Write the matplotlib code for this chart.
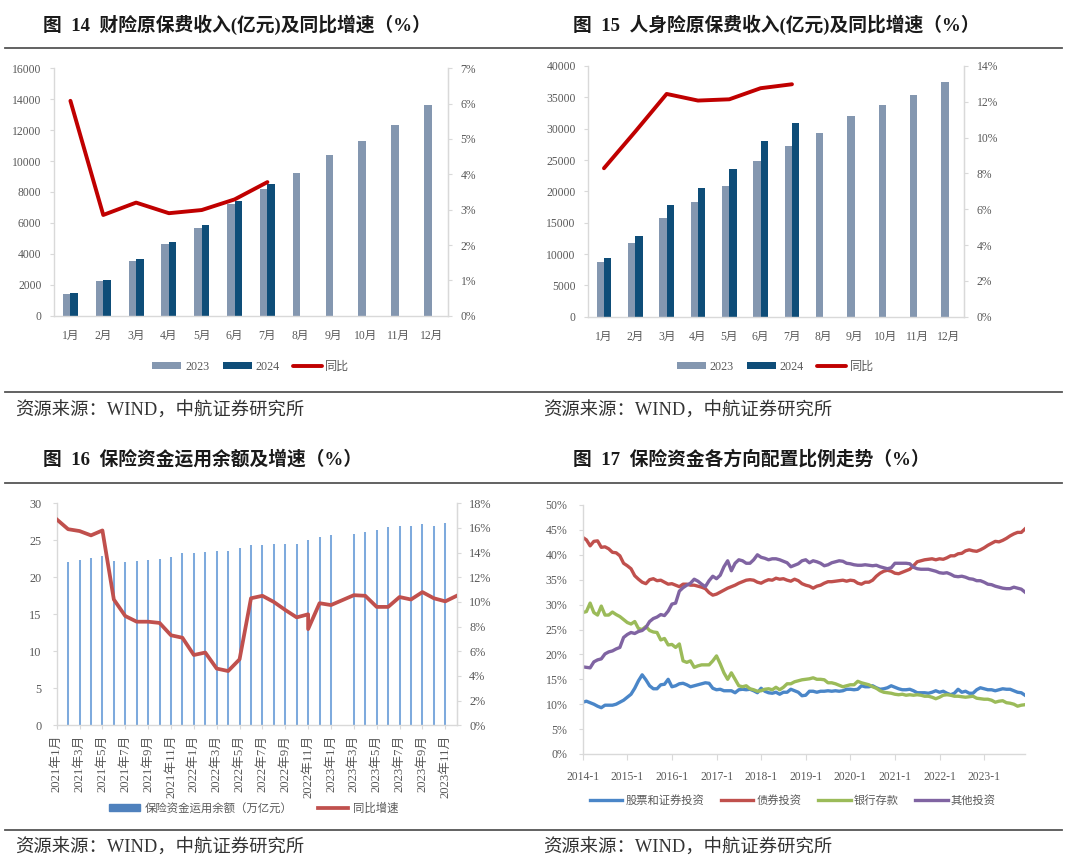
import numpy as np
import matplotlib
matplotlib.use('Agg')
import matplotlib.pyplot as plt
from matplotlib.ticker import FuncFormatter
from matplotlib.lines import Line2D
from matplotlib.patches import Patch

# ---------------- data ----------------
months12 = ['1月', '2月', '3月', '4月', '5月', '6月', '7月', '8月', '9月', '10月', '11月', '12月']

# Fig 14: property insurance premium (亿元) and yoy (%)
p14_2023 = [1402, 2221, 3558, 4658, 5693, 7202, 8216, 9229, 10372, 11321, 12356, 13606]
p14_2024 = [1488, 2307, 3687, 4744, 5887, 7418, 8518]
p14_yoy = [6.08, 2.85, 3.20, 2.90, 2.99, 3.29, 3.78]

# Fig 15: life insurance premium (亿元) and yoy (%)
p15_2023 = [8670, 11702, 15798, 18245, 20904, 24787, 27234, 29362, 32021, 33777, 35426, 37500]
p15_2024 = [9362, 12819, 17766, 20479, 23511, 27979, 30904]
p15_yoy = [8.29, 10.34, 12.44, 12.07, 12.14, 12.76, 12.98]

# Fig 16: insurance fund balance (万亿元) and yoy (%)
months16 = [f'{y}年{m}月' for y in (2021, 2022, 2023) for m in range(1, 13)]
fund_balance = [np.nan, 22.1, 22.4, 22.6, 22.9, 22.2, 22.1, 22.25, 22.4, 22.5, 22.7, 23.3,
                23.3, 23.4, 23.6, 23.6, 24.0, 24.4, 24.3, 24.5, 24.5, 24.5, 25.0, 25.5,
                25.7, np.nan, 25.9, 26.1, 26.35, 26.75, 26.9, 27.0, 27.2, 27.0, 27.3, np.nan]
growth_months = ['2021年1月', '2021年2月', '2021年3月', '2021年4月', '2021年5月', '2021年6月',
                 '2021年7月', '2021年8月', '2021年9月', '2021年10月', '2021年11月', '2021年12月',
                 '2022年1月', '2022年2月', '2022年3月', '2022年4月', '2022年5月', '2022年6月',
                 '2022年7月', '2022年8月', '2022年9月', '2022年10月', '2022年11月', '2022年11月',
                 '2022年12月', '2023年1月', '2023年3月', '2023年4月', '2023年5月', '2023年6月',
                 '2023年7月', '2023年8月', '2023年9月', '2023年10月', '2023年11月', '2023年12月']
growth = [16.7, 15.9, 15.75, 15.4, 15.8, 10.2, 8.86, 8.4, 8.4, 8.3, 7.3, 7.1,
          5.7, 5.9, 4.6, 4.4, 5.35, 10.3, 10.5, 10.0, 9.35, 8.75, 9.0, 7.8,
          9.9, 9.75, 10.55, 10.5, 9.6, 9.6, 10.4, 10.2, 10.8, 10.3, 10.05, 10.5]

# Fig 17: allocation ratios (%), monthly 2014-1 .. 2023-12
year_labels17 = ['2014-1', '2015-1', '2016-1', '2017-1', '2018-1', '2019-1', '2020-1', '2021-1', '2022-1', '2023-1']
stock = [10.4, 10.6, 10.3, 10.0, 9.6, 9.3, 9.8, 9.8, 9.8, 10.0, 10.4, 10.8,
         11.4, 12.0, 13.2, 14.7, 15.9, 14.9, 13.7, 13.1, 13.1, 13.9, 14.0, 15.0,
         13.5, 13.7, 14.1, 14.2, 13.9, 13.5, 13.7, 13.9, 14.1, 14.3, 14.2, 13.2,
         12.9, 13.0, 12.7, 12.7, 12.7, 12.3, 12.9, 13.0, 12.9, 13.0, 12.7, 12.3,
         13.2, 12.6, 12.3, 12.2, 12.4, 12.0, 12.4, 12.4, 13.0, 12.7, 12.4, 11.7,
         11.8, 12.6, 12.6, 12.4, 12.6, 12.6, 12.7, 12.6, 12.7, 12.6, 12.7, 13.0,
         13.0, 12.9, 13.0, 13.7, 13.5, 13.5, 13.7, 13.3, 13.0, 13.1, 13.3, 13.7,
         13.4, 13.1, 12.9, 12.9, 13.0, 12.7, 12.3, 12.3, 12.3, 12.2, 12.4, 12.7,
         12.4, 12.6, 12.2, 11.9, 12.2, 13.0, 12.4, 12.6, 12.2, 12.2, 12.9, 13.3,
         13.1, 12.9, 12.9, 12.7, 12.9, 13.1, 13.0, 13.0, 12.7, 12.4, 12.3, 11.8]
bond = [43.5, 43.0, 41.8, 42.7, 42.8, 41.5, 41.6, 41.2, 40.5, 40.4, 39.8, 38.3,
        37.8, 37.2, 35.8, 35.1, 34.5, 34.2, 35.0, 35.2, 34.8, 34.9, 34.5, 34.1,
        34.2, 33.9, 33.6, 34.1, 34.1, 33.9, 33.9, 33.7, 33.5, 33.2, 32.4, 31.9,
        32.1, 32.5, 32.9, 33.3, 33.6, 33.9, 34.3, 34.6, 34.9, 35.0, 34.9, 34.5,
        34.3, 34.7, 35.0, 34.9, 35.3, 35.1, 35.2, 34.9, 34.7, 35.1, 34.8, 34.2,
        33.9, 33.7, 33.3, 33.7, 33.9, 34.3, 34.6, 34.6, 34.7, 34.8, 34.9, 34.7,
        34.9, 34.8, 34.3, 34.1, 34.5, 34.5, 34.9, 35.7, 36.3, 36.7, 36.9, 36.7,
        36.3, 36.2, 36.5, 36.8, 37.1, 37.8, 38.6, 38.8, 39.0, 39.1, 39.2, 39.0,
        39.2, 39.1, 39.4, 39.8, 39.8, 40.2, 40.3, 40.8, 41.0, 40.8, 40.7, 41.0,
        41.4, 41.9, 42.3, 42.7, 42.6, 42.9, 43.3, 43.8, 44.2, 44.5, 44.5, 45.2]
deposit = [28.4, 28.6, 30.3, 28.4, 27.9, 29.7, 27.9, 27.9, 28.5, 28.0, 27.6, 27.0,
           26.4, 26.1, 26.6, 25.2, 25.0, 25.6, 24.8, 24.5, 24.4, 22.9, 23.2, 21.9,
           22.0, 21.4, 22.1, 18.7, 18.4, 18.7, 17.4, 17.7, 17.9, 17.9, 17.9, 18.7,
           19.7, 18.1, 16.3, 15.0, 16.3, 15.0, 13.7, 13.5, 13.7, 13.1, 12.9, 12.6,
           12.7, 13.0, 13.1, 12.9, 13.4, 12.9, 13.4, 14.1, 14.1, 14.5, 14.7, 14.9,
           15.0, 15.1, 15.3, 15.0, 15.0, 14.9, 14.3, 14.3, 14.1, 13.8, 13.5, 13.7,
           13.9, 13.9, 14.6, 14.3, 14.1, 13.9, 13.5, 13.2, 12.7, 12.4, 12.3, 12.2,
           12.0, 11.9, 12.0, 11.8, 11.9, 11.8, 11.9, 11.8, 11.6, 11.6, 11.4, 11.1,
           11.4, 11.8, 11.9, 11.8, 11.6, 11.6, 11.5, 11.4, 11.5, 11.6, 11.2, 11.1,
           11.0, 11.0, 10.8, 10.4, 10.6, 10.7, 10.3, 10.2, 10.0, 9.6, 9.8, 9.9]
other = [17.5, 17.4, 17.3, 18.5, 18.9, 19.1, 20.1, 20.5, 20.7, 21.1, 21.4, 23.4,
         24.0, 24.4, 24.2, 24.6, 24.8, 25.4, 26.6, 27.2, 27.5, 28.0, 27.8, 28.7,
         30.1, 30.3, 32.7, 33.4, 33.9, 34.3, 35.1, 34.7, 34.1, 33.6, 34.8, 35.7,
         35.2, 35.9, 37.6, 38.8, 36.8, 38.3, 39.0, 38.8, 38.3, 38.3, 39.0, 40.0,
         39.5, 39.3, 39.0, 39.2, 39.2, 39.0, 38.7, 38.4, 37.6, 37.9, 38.2, 38.8,
         39.0, 38.4, 38.8, 38.6, 38.3, 37.8, 38.0, 38.4, 38.6, 38.8, 38.7, 38.3,
         38.2, 38.0, 37.9, 37.9, 38.0, 37.9, 37.8, 37.9, 37.6, 37.4, 37.2, 37.4,
         38.3, 38.3, 38.3, 38.3, 38.2, 37.5, 37.2, 37.1, 37.1, 37.1, 36.9, 36.7,
         36.4, 36.3, 36.4, 36.1, 35.7, 35.6, 35.7, 35.5, 35.2, 35.1, 34.8, 34.8,
         34.5, 34.1, 34.0, 33.7, 33.5, 33.3, 33.2, 33.2, 33.5, 33.3, 33.1, 32.5]

# ---------------- style ----------------
SERIF = ['Liberation Serif', 'Noto Sans CJK SC', 'DejaVu Sans']
plt.rcParams['font.family'] = SERIF
plt.rcParams['axes.unicode_minus'] = False
GREY = '#595959'
SPINE = '#D9D9D9'

W, H = 1080, 868
fig = plt.figure(figsize=(W / 100, H / 100), dpi=100)
fig.patch.set_facecolor('white')


def ax_at(l, t, r, b):
    return fig.add_axes([l / W, 1 - b / H, (r - l) / W, (b - t) / H])


def base_style(ax, right_visible=True):
    ax.spines['top'].set_visible(False)
    for s in ('left', 'bottom', 'right'):
        ax.spines[s].set_color(SPINE)
        ax.spines[s].set_linewidth(1.0)
    ax.spines['right'].set_visible(right_visible)
    ax.tick_params(axis='both', colors=GREY, labelsize=8.4)
    ax.tick_params(axis='y', length=3, color=SPINE, pad=6)
    ax.tick_params(axis='x', length=0, pad=10)


pct = FuncFormatter(lambda v, p: f'{v:.0f}%')


def premium_panel(box, v23, v24, yoy, ymax, ystep, rmax, rstep, leg_x, leg_y):
    ax = ax_at(*box)
    x = np.arange(len(months12))
    b1 = ax.bar(x - 0.115, v23, 0.23, color='#8497B0', label='2023')
    b2 = ax.bar(x[:len(v24)] + 0.115, v24, 0.23, color='#0E4D78', label='2024')
    ax.set_xlim(-0.5, len(months12) - 0.5)
    ax.set_ylim(0, ymax)
    ax.set_yticks(np.arange(0, ymax + 1, ystep))
    ax.set_xticks(x)
    ax.set_xticklabels(months12)
    base_style(ax)
    ax2 = ax.twinx()
    l1, = ax2.plot(x[:len(yoy)], yoy, color='#C00000', lw=2.8, solid_capstyle='round', label='同比')
    ax2.set_ylim(0, rmax)
    ax2.set_yticks(np.arange(0, rmax + 0.01, rstep))
    ax2.yaxis.set_major_formatter(pct)
    for s in ('left', 'bottom', 'top'):
        ax2.spines[s].set_visible(False)
    ax2.spines['right'].set_color(SPINE)
    ax2.tick_params(axis='y', colors=GREY, labelsize=8.4, length=3, color=SPINE, pad=6)
    ax.legend(handles=[b1, b2, l1], loc='center', bbox_to_anchor=(leg_x, leg_y), ncol=3,
              frameon=False, fontsize=8.7, handlelength=2.4, handleheight=0.55,
              handletextpad=0.3, columnspacing=1.1, labelcolor=GREY)


premium_panel((54, 68.3, 448, 315.7), p14_2023, p14_2024, p14_yoy, 16000, 2000, 7, 1, 0.5, -0.207)
premium_panel((588.3, 66, 964.3, 316.7), p15_2023, p15_2024, p15_yoy, 40000, 5000, 14, 2, 0.498, -0.2)

# ---------------- Fig 16 ----------------
ax = ax_at(56.7, 503.3, 456.7, 725.3)
pos = {m: i for i, m in enumerate(months16)}
xb = np.arange(len(months16))
fb = np.array(fund_balance, dtype=float)
ok = ~np.isnan(fb)
ax.vlines(xb[ok], 0, fb[ok], colors='#7EAADD', linewidth=1.45, snap=True)
ax.set_xlim(0, len(months16) - 1)
ax.set_ylim(0, 30)
ax.set_yticks(np.arange(0, 31, 5))
ax.set_xticks(xb[::2])
ax.set_xticklabels(months16[::2], rotation=90)
base_style(ax)
ax.tick_params(axis='x', length=3, color=SPINE, pad=4, labelsize=9.2)
ax.tick_params(axis='y', pad=8, labelsize=8.8)
ax2 = ax.twinx()
gx = [pos[m] for m in growth_months]
l16, = ax2.plot(gx, growth, color='#C0504D', lw=2.7, label='同比增速')
ax2.set_ylim(0, 18)
ax2.set_yticks(np.arange(0, 19, 2))
ax2.yaxis.set_major_formatter(pct)
for s in ('left', 'bottom', 'top'):
    ax2.spines[s].set_visible(False)
ax2.spines['right'].set_color(SPINE)
ax2.tick_params(axis='y', colors=GREY, labelsize=8.8, length=3, color=SPINE, pad=6)
ax.legend(handles=[Patch(color='#4F81BD', label='保险资金运用余额（万亿元）'), l16], loc='center',
          bbox_to_anchor=(0.493, -0.3725), ncol=2, frameon=False, fontsize=8.2,
          handlelength=2.7, handleheight=0.6, handletextpad=0.45, columnspacing=2.2, labelcolor=GREY)

# ---------------- Fig 17 ----------------
ax = ax_at(582.7, 505, 1025, 754)
xm = np.arange(len(stock))
c_stock, c_bond, c_dep, c_oth = '#4A86C8', '#C0504D', '#9BBB59', '#8064A2'
ax.plot(xm, stock, color=c_stock, lw=2.4, label='股票和证券投资')
ax.plot(xm, bond, color=c_bond, lw=2.4, label='债券投资')
ax.plot(xm, deposit, color=c_dep, lw=2.4, label='银行存款')
ax.plot(xm, other, color=c_oth, lw=2.4, label='其他投资')
ax.set_xlim(0, len(stock) - 1)
ax.set_ylim(0, 50)
ax.set_yticks(np.arange(0, 51, 5))
ax.yaxis.set_major_formatter(pct)
ax.set_xticks(np.arange(0, 12 * len(year_labels17), 12))
ax.set_xticklabels(year_labels17)
base_style(ax, right_visible=False)
ax.tick_params(axis='x', length=4, color=SPINE, pad=8, labelsize=8.4)
ax.tick_params(axis='y', pad=8, labelsize=8.6)
ax.legend(loc='center', bbox_to_anchor=(0.475, -0.185), ncol=4, frameon=False, fontsize=8.1,
          handlelength=2.9, handletextpad=0.25, columnspacing=1.5, labelcolor=GREY)

# ---------------- titles, rules, sources ----------------
title_kw = dict(fontsize=13.5, fontweight='bold', color='#1a1a1a', va='center', ha='left')
fig.text(43 / W, 1 - 25 / H, '图  14  财险原保费收入(亿元)及同比增速（%）', **title_kw)
fig.text(573 / W, 1 - 25 / H, '图  15  人身险原保费收入(亿元)及同比增速（%）', **title_kw)
fig.text(43 / W, 1 - 459 / H, '图  16  保险资金运用余额及增速（%）', **title_kw)
fig.text(573 / W, 1 - 459 / H, '图  17  保险资金各方向配置比例走势（%）', **title_kw)

src_kw = dict(fontsize=13.2, color='#333333', va='center', ha='left')
for xs, ys in ((15, 411), (543, 411), (15, 848), (543, 848)):
    fig.text(xs / W, 1 - ys / H, '资源来源：WIND，中航证券研究所', **src_kw)

for yl in (48, 392, 483, 830):
    fig.add_artist(Line2D([5 / W, 1062 / W], [1 - yl / H, 1 - yl / H], color='#555555', lw=1.3))

fig.savefig('out.png', dpi=100, facecolor='white')
